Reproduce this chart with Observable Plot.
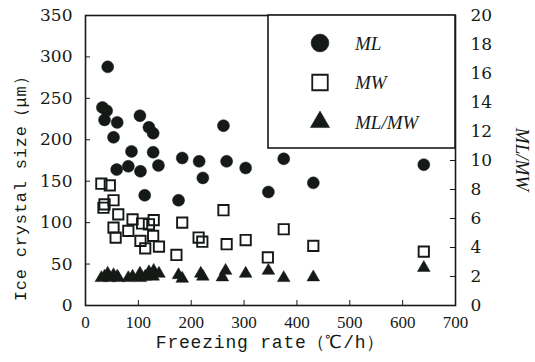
<!DOCTYPE html>
<html><head><meta charset="utf-8">
<script src="https://cdn.jsdelivr.net/npm/d3@7"></script>
<script src="https://cdn.jsdelivr.net/npm/@observablehq/plot@0.6"></script>
<style>
body{margin:0;background:#fff;}
#wrap{position:relative;width:535px;height:362px;overflow:hidden;}
#wrap svg{display:block;}
#legend{position:absolute;left:0;top:0;}
</style></head><body><div id="wrap"></div>
<script>
// ML (long axis, µm)
const rateML = [32,40,36,42,53,60,59,81,87,103,104,120,128,128,138,112,176,183,215,222,261,267,303,346,375,431,640];
const sizeML = [239,235,224,288,203,221,164,168,186,229,162,215,208,185,169,133,127,178,174,154,217,174,166,137,177,148,170];
// MW (short axis, µm)
const rateMW = [30,46,36,34,53,62,53,57,81,89,104,107,113,120,129,128,139,183,172,214,221,261,267,303,345,375,431,640];
const sizeMW = [147,145,122,118,127,110,94,82,90,104,78,99,69,98,103,84,71,100,61,82,77,115,74,79,58,92,72,65];
// ML/MW ratio
const rateRatio = [30,36,42,46,53,60,62,81,89,103,104,113,120,128,129,139,176,183,218,222,259,265,303,346,375,431,640];
const ratioVal  = [1.9,2.0,2.2,1.9,2.1,2.0,1.9,1.9,2.0,2.2,1.9,2.0,2.3,2.0,2.4,2.2,2.1,1.85,2.2,2.0,1.95,2.4,2.2,2.4,1.9,1.95,2.6];

const xTicks = [0,100,200,300,400,500,600,700];
const yTicksLeft = [0,50,100,150,200,250,300,350];
const yTicksRight = [0,2,4,6,8,10,12,14,16,18,20];
const seriesNames = ["ML","MW","ML/MW"];
const yLabel = "Ice crystal size（μm）";
const xLabel = "Freezing rate（℃/h）";
const y2Label = "ML/MW";

const leftMax = 350, rightMax = 20;
const k = leftMax / rightMax;

const ml = rateML.map((r,i)=>({rate:r, v:sizeML[i]}));
const mw = rateMW.map((r,i)=>({rate:r, v:sizeMW[i]}));
const ra = rateRatio.map((r,i)=>({rate:r, v:ratioVal[i]*k}));

const W = 535, H = 362, mL = 85, mR = 80, mT = 15, mB = 57;
const pw = W - mL - mR, ph = H - mT - mB;
const ink = "#151a17";
const serif = "'DejaVu Serif', serif";
const mono = "'Liberation Mono', monospace";

const chart = Plot.plot({
  width: W, height: H,
  marginLeft: mL, marginRight: mR, marginTop: mT, marginBottom: mB,
  style: {background: "#fff", color: ink},
  x: {domain: [0, 700], label: null},
  y: {domain: [0, leftMax], label: null},
  marks: [
    Plot.frame({stroke: ink, strokeWidth: 1.6}),
    // inward ticks
    Plot.ruleY(yTicksLeft.slice(1,-1), {y: d=>d, insetRight: pw - 5, stroke: ink}),
    Plot.ruleY(yTicksRight.slice(1,-1).map(d=>d*k), {y: d=>d, insetLeft: pw - 5, stroke: ink}),
    Plot.ruleX(xTicks.slice(1,-1), {x: d=>d, insetTop: ph - 5, stroke: ink}),
    Plot.axisY(yTicksLeft, {anchor: "left", tickSize: 0, tickPadding: 13, fontSize: 17, fontFamily: serif, label: null}),
    Plot.axisY(yTicksRight.map(d=>d*k), {anchor: "right", tickSize: 0, tickPadding: 15, fontSize: 17, fontFamily: serif, tickFormat: d => Math.round(d/k), label: null}),
    Plot.axisX(xTicks, {anchor: "bottom", tickSize: 0, tickPadding: 10, fontSize: 17, fontFamily: "'Liberation Serif', serif", label: null}),
    Plot.dot(ml, {x: "rate", y: "v", r: 6, fill: ink, stroke: ink, strokeWidth: 0.5}),
    Plot.dot(mw, {x: "rate", y: "v", symbol: "square", r: 5.8, fill: "none", stroke: ink, strokeWidth: 1.9}),
    Plot.dot(ra, {x: "rate", y: "v", symbol: "triangle", r: 4.7, fill: ink, stroke: ink, strokeWidth: 0.5}),
    Plot.text([yLabel], {text: d=>d, frameAnchor: "left", textAnchor: "middle", dx: -65, dy: 24, rotate: -90, fontSize: 17, fontFamily: mono, fill: ink}),
    Plot.text([xLabel], {text: d=>d, frameAnchor: "bottom", textAnchor: "middle", dy: 42, fontSize: 18, fontFamily: mono, fill: ink}),
    Plot.text([y2Label], {text: d=>d, frameAnchor: "right", textAnchor: "middle", dx: 67, dy: -1, rotate: 90, fontSize: 19, fontStyle: "italic", fontFamily: "'Liberation Serif', serif", fill: ink})
  ]
});
const wrap = document.getElementById("wrap");
wrap.appendChild(chart);
// slight letter spacing on axis titles, like the reference
d3.select(chart).selectAll("text").filter(function(){ return this.textContent === yLabel || this.textContent === xLabel; })
  .style("letter-spacing", "0.8px");

// legend box
const lg = d3.select(wrap).append("svg").attr("id","legend").attr("width", W).attr("height", H);
lg.append("rect").attr("x", 268).attr("y", mT).attr("width", W - mR - 268).attr("height", 133)
  .attr("fill", "#fff").attr("stroke", ink).attr("stroke-width", 1.6);
const sym = [d3.symbolCircle, d3.symbolSquare, d3.symbolTriangle];
const sizes = [250, 240, 160];
seriesNames.forEach((name, i) => {
  const cy = 43 + i * 39.5;
  lg.append("path").attr("d", d3.symbol(sym[i], sizes[i])())
    .attr("transform", `translate(320,${cy})`)
    .attr("fill", i === 1 ? "none" : ink).attr("stroke", ink).attr("stroke-width", i === 1 ? 1.8 : 0.5);
  lg.append("text").attr("x", 355).attr("y", cy).attr("dy", "0.35em")
    .attr("font-family", "'Liberation Serif', serif").attr("font-style", "italic")
    .attr("font-size", 19).attr("fill", ink).text(name);
});
</script>
</body></html>
